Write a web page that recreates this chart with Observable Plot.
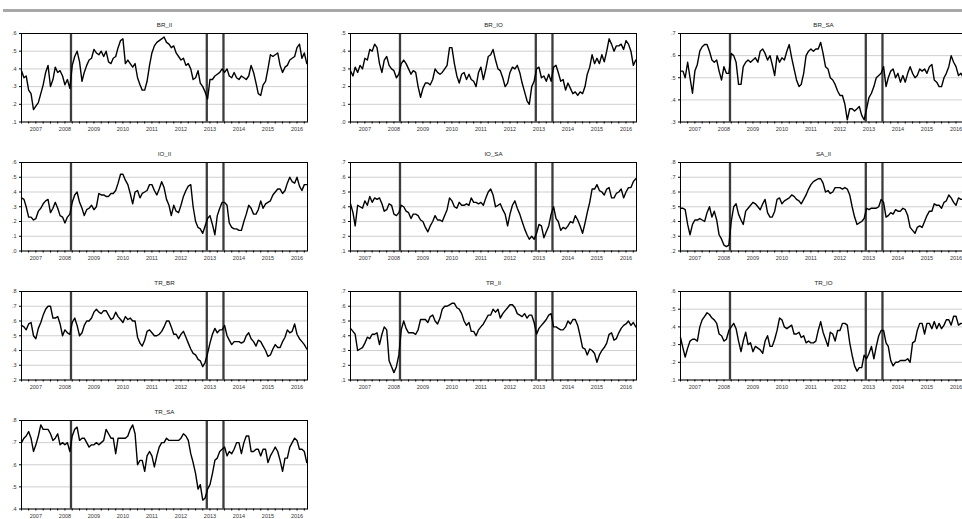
<!DOCTYPE html>
<html><head><meta charset="utf-8">
<script src="https://cdn.jsdelivr.net/npm/d3@7"></script>
<script src="https://cdn.jsdelivr.net/npm/@observablehq/plot@0.6"></script>
<style>
html,body{margin:0;padding:0;background:#fff;overflow:hidden;width:962px;height:519px}
#root{position:relative;width:962px;height:519px;overflow:hidden;background:#fff}
.bar{position:absolute;left:3px;right:0;top:9px;height:3px;background:#a8a8a8}
.panel{position:absolute}
</style></head><body><div id="root"><div class="bar"></div></div>
<script>
// Monthly readings, Jan 2007 .. Nov 2016 (119 values each)
const startYear = 2007;
const titles = ["BR_II","BR_IO","BR_SA","IO_II","IO_SA","SA_II","TR_BR","TR_II","TR_IO","TR_SA"];
const yDomains = [[0.1,0.6],[0.0,0.5],[0.3,0.7],[0.0,0.6],[0.1,0.7],[0.2,0.8],[0.2,0.8],[0.1,0.7],[0.1,0.6],[0.4,0.8]];
const eventDates = ["2008-09-15","2013-05-22","2013-12-18"];
const yearLabels = [2007,2008,2009,2010,2011,2012,2013,2014,2015,2016];
const xEnd = "2016-11-10";

const BR_II = [0.39,0.35,0.36,0.28,0.26,0.17,0.19,0.21,0.26,0.31,0.38,0.42,
0.30,0.34,0.41,0.38,0.39,0.36,0.31,0.34,0.29,0.42,0.47,0.50,
0.44,0.33,0.38,0.42,0.45,0.46,0.51,0.49,0.48,0.50,0.47,0.50,
0.44,0.43,0.46,0.47,0.52,0.56,0.57,0.43,0.45,0.43,0.41,0.43,
0.35,0.31,0.28,0.28,0.33,0.42,0.49,0.53,0.55,0.56,0.57,0.58,
0.55,0.54,0.52,0.53,0.49,0.47,0.45,0.46,0.42,0.43,0.40,0.34,
0.35,0.39,0.32,0.30,0.27,0.23,0.34,0.34,0.36,0.37,0.38,0.40,
0.38,0.40,0.36,0.35,0.38,0.35,0.34,0.36,0.35,0.34,0.36,0.42,
0.38,0.32,0.26,0.25,0.31,0.33,0.40,0.48,0.47,0.48,0.49,0.42,
0.38,0.41,0.42,0.45,0.46,0.47,0.52,0.54,0.46,0.49,0.43];

const BR_IO = [0.29,0.26,0.31,0.28,0.32,0.30,0.36,0.35,0.41,0.40,0.44,0.42,
0.33,0.28,0.35,0.37,0.32,0.30,0.29,0.25,0.27,0.33,0.35,0.33,
0.30,0.27,0.29,0.28,0.20,0.14,0.19,0.22,0.22,0.21,0.24,0.30,
0.28,0.27,0.28,0.30,0.32,0.42,0.42,0.33,0.26,0.22,0.27,0.28,
0.24,0.27,0.24,0.23,0.20,0.28,0.31,0.24,0.30,0.37,0.38,0.41,
0.35,0.30,0.29,0.25,0.20,0.22,0.28,0.31,0.30,0.32,0.28,0.22,
0.17,0.12,0.10,0.20,0.23,0.30,0.31,0.25,0.26,0.23,0.27,0.23,
0.31,0.32,0.28,0.23,0.24,0.18,0.22,0.19,0.16,0.17,0.15,0.17,
0.16,0.20,0.27,0.31,0.38,0.33,0.36,0.33,0.38,0.34,0.40,0.47,
0.44,0.40,0.43,0.43,0.44,0.41,0.46,0.44,0.40,0.32,0.35];

const BR_SA = [0.53,0.53,0.50,0.57,0.50,0.43,0.53,0.56,0.62,0.64,0.65,0.65,
0.62,0.58,0.57,0.58,0.53,0.49,0.55,0.52,0.52,0.61,0.60,0.57,
0.47,0.47,0.55,0.57,0.58,0.57,0.58,0.59,0.57,0.62,0.63,0.61,
0.58,0.60,0.56,0.51,0.60,0.57,0.59,0.58,0.62,0.65,0.59,0.54,
0.49,0.46,0.47,0.52,0.60,0.62,0.63,0.62,0.63,0.63,0.66,0.61,
0.55,0.54,0.50,0.49,0.47,0.44,0.42,0.42,0.38,0.31,0.36,0.36,
0.35,0.36,0.37,0.33,0.31,0.36,0.41,0.43,0.46,0.50,0.51,0.52,
0.55,0.46,0.50,0.53,0.54,0.50,0.52,0.48,0.51,0.48,0.52,0.55,
0.52,0.50,0.51,0.54,0.53,0.54,0.52,0.55,0.56,0.49,0.48,0.46,
0.46,0.50,0.52,0.55,0.60,0.57,0.55,0.51,0.52,0.50,0.50];

const IO_II = [0.36,0.35,0.30,0.23,0.23,0.21,0.22,0.27,0.29,0.32,0.34,0.35,
0.26,0.29,0.33,0.29,0.24,0.23,0.19,0.23,0.25,0.33,0.38,0.40,
0.33,0.29,0.24,0.28,0.29,0.31,0.28,0.30,0.39,0.38,0.38,0.37,
0.37,0.39,0.39,0.41,0.46,0.52,0.52,0.48,0.45,0.39,0.32,0.40,
0.41,0.36,0.39,0.40,0.41,0.45,0.45,0.41,0.38,0.42,0.47,0.43,
0.35,0.31,0.24,0.31,0.27,0.26,0.31,0.37,0.41,0.44,0.45,0.30,
0.20,0.16,0.15,0.12,0.17,0.22,0.24,0.18,0.11,0.24,0.29,0.33,
0.33,0.31,0.19,0.16,0.15,0.15,0.14,0.14,0.20,0.25,0.31,0.29,
0.25,0.25,0.28,0.34,0.29,0.32,0.33,0.34,0.38,0.40,0.42,0.42,
0.39,0.41,0.46,0.50,0.47,0.46,0.50,0.44,0.41,0.45,0.45];

const IO_SA = [0.42,0.36,0.27,0.41,0.40,0.39,0.44,0.41,0.47,0.43,0.46,0.45,
0.46,0.42,0.37,0.38,0.42,0.41,0.35,0.34,0.36,0.41,0.40,0.37,
0.36,0.32,0.35,0.35,0.34,0.31,0.30,0.26,0.23,0.27,0.30,0.34,
0.31,0.31,0.30,0.34,0.38,0.46,0.44,0.40,0.39,0.43,0.41,0.41,
0.42,0.41,0.46,0.43,0.43,0.42,0.43,0.41,0.46,0.50,0.52,0.48,
0.40,0.41,0.42,0.38,0.35,0.27,0.35,0.41,0.44,0.39,0.35,0.30,
0.25,0.21,0.18,0.20,0.18,0.22,0.28,0.27,0.19,0.23,0.27,0.35,
0.40,0.32,0.30,0.24,0.26,0.25,0.27,0.30,0.29,0.34,0.31,0.27,
0.22,0.29,0.36,0.43,0.52,0.52,0.55,0.51,0.50,0.48,0.52,0.53,
0.46,0.46,0.49,0.50,0.52,0.46,0.50,0.53,0.53,0.57,0.59];

const SA_II = [0.49,0.49,0.48,0.38,0.31,0.38,0.41,0.41,0.42,0.41,0.40,0.46,
0.50,0.43,0.47,0.41,0.31,0.28,0.24,0.23,0.24,0.40,0.50,0.52,
0.45,0.41,0.38,0.47,0.49,0.51,0.53,0.52,0.50,0.48,0.52,0.55,
0.46,0.43,0.43,0.47,0.55,0.56,0.52,0.54,0.55,0.56,0.58,0.57,
0.55,0.54,0.52,0.55,0.58,0.62,0.65,0.67,0.68,0.69,0.69,0.66,
0.60,0.61,0.59,0.60,0.63,0.63,0.63,0.62,0.63,0.62,0.58,0.50,
0.43,0.38,0.39,0.40,0.42,0.49,0.48,0.49,0.49,0.49,0.50,0.55,
0.53,0.43,0.44,0.46,0.45,0.48,0.47,0.47,0.49,0.48,0.44,0.36,
0.34,0.32,0.36,0.37,0.36,0.40,0.44,0.47,0.47,0.52,0.51,0.51,
0.49,0.53,0.54,0.58,0.56,0.53,0.51,0.56,0.55,0.55,0.55];

const TR_BR = [0.57,0.56,0.54,0.58,0.59,0.50,0.48,0.55,0.59,0.64,0.68,0.70,
0.70,0.62,0.62,0.63,0.58,0.50,0.54,0.52,0.51,0.59,0.62,0.57,
0.50,0.52,0.57,0.60,0.60,0.62,0.66,0.68,0.66,0.65,0.67,0.67,
0.64,0.61,0.62,0.66,0.63,0.61,0.59,0.63,0.61,0.62,0.60,0.60,
0.49,0.45,0.43,0.47,0.53,0.54,0.52,0.50,0.50,0.51,0.53,0.56,
0.60,0.60,0.56,0.51,0.51,0.48,0.51,0.53,0.49,0.45,0.41,0.38,
0.37,0.34,0.33,0.29,0.32,0.38,0.45,0.51,0.55,0.52,0.54,0.54,
0.57,0.50,0.47,0.44,0.46,0.46,0.46,0.45,0.46,0.50,0.52,0.48,
0.46,0.43,0.47,0.46,0.43,0.40,0.36,0.37,0.41,0.44,0.42,0.42,
0.46,0.49,0.54,0.52,0.53,0.58,0.51,0.48,0.46,0.44,0.41];

const TR_II = [0.45,0.43,0.41,0.30,0.31,0.32,0.35,0.39,0.38,0.41,0.41,0.42,
0.34,0.41,0.46,0.44,0.23,0.19,0.15,0.19,0.27,0.44,0.50,0.45,
0.42,0.42,0.42,0.41,0.44,0.51,0.51,0.51,0.49,0.53,0.54,0.50,
0.48,0.52,0.58,0.60,0.60,0.61,0.62,0.62,0.59,0.58,0.55,0.50,
0.47,0.49,0.43,0.43,0.40,0.44,0.46,0.48,0.51,0.54,0.54,0.58,
0.56,0.58,0.52,0.55,0.57,0.59,0.61,0.61,0.59,0.55,0.54,0.53,
0.55,0.52,0.54,0.54,0.49,0.41,0.45,0.47,0.49,0.51,0.54,0.55,
0.46,0.46,0.45,0.44,0.44,0.46,0.50,0.48,0.51,0.51,0.47,0.40,
0.32,0.31,0.27,0.31,0.30,0.28,0.22,0.27,0.30,0.32,0.35,0.41,
0.42,0.37,0.38,0.42,0.45,0.47,0.48,0.50,0.47,0.49,0.46];

const TR_IO = [0.34,0.28,0.23,0.28,0.32,0.33,0.33,0.32,0.40,0.44,0.46,0.48,
0.47,0.45,0.44,0.42,0.36,0.35,0.32,0.33,0.38,0.40,0.42,0.39,
0.32,0.26,0.32,0.37,0.30,0.31,0.26,0.29,0.28,0.27,0.25,0.32,
0.35,0.29,0.29,0.33,0.38,0.45,0.44,0.40,0.39,0.40,0.41,0.36,
0.36,0.37,0.34,0.35,0.31,0.32,0.31,0.31,0.32,0.38,0.43,0.37,
0.33,0.29,0.37,0.36,0.32,0.38,0.38,0.42,0.42,0.41,0.31,0.24,
0.18,0.15,0.17,0.17,0.24,0.22,0.25,0.29,0.22,0.29,0.35,0.38,
0.38,0.31,0.29,0.21,0.18,0.20,0.20,0.21,0.21,0.21,0.22,0.20,
0.31,0.32,0.38,0.42,0.42,0.36,0.42,0.42,0.39,0.43,0.39,0.42,
0.39,0.41,0.44,0.44,0.41,0.46,0.46,0.41,0.42,0.42,0.42];

const TR_SA = [0.70,0.72,0.73,0.75,0.72,0.66,0.69,0.73,0.78,0.76,0.76,0.76,
0.74,0.71,0.72,0.74,0.69,0.70,0.69,0.70,0.66,0.73,0.76,0.77,
0.71,0.72,0.72,0.70,0.68,0.69,0.69,0.70,0.69,0.70,0.71,0.76,
0.74,0.72,0.72,0.65,0.72,0.72,0.72,0.72,0.73,0.76,0.78,0.74,
0.60,0.62,0.62,0.57,0.64,0.66,0.64,0.59,0.64,0.68,0.70,0.70,
0.72,0.71,0.71,0.71,0.71,0.71,0.72,0.74,0.73,0.71,0.65,0.61,
0.56,0.49,0.51,0.44,0.45,0.49,0.51,0.56,0.62,0.63,0.66,0.67,
0.68,0.64,0.66,0.65,0.67,0.70,0.70,0.65,0.70,0.73,0.73,0.66,
0.66,0.67,0.67,0.64,0.67,0.67,0.61,0.64,0.66,0.68,0.66,0.62,
0.57,0.63,0.63,0.68,0.70,0.72,0.71,0.67,0.67,0.66,0.61];

const seriesList = [BR_II, BR_IO, BR_SA, IO_II, IO_SA, SA_II, TR_BR, TR_II, TR_IO, TR_SA];

const root = document.getElementById("root");
const FRAME_W = 286, FRAME_H = 88.5;
const ML = 22, MR = 4, MT = 18, MB = 16;
const xStart = new Date(Date.UTC(startYear, 0, 1));
const xStop = new Date(xEnd + "T00:00:00Z");
const yearTicks = yearLabels.map(y => new Date(Date.UTC(y, 6, 1)));
const quarterTicks = d3.utcMonth.every(3).range(xStart, xStop);
const events = eventDates.map(s => new Date(s + "T00:00:00Z"));
const fmt = d => d.toFixed(1).replace(/^0/, "");

seriesList.forEach((vals, i) => {
  const col = i % 3, row = Math.floor(i / 3);
  const frameLeft = 20.7 + col * 329.7;
  const frameTop = 33.3 + row * 129;
  const data = vals.map((v, k) => ({date: new Date(Date.UTC(startYear, k, 1)), value: v}));
  const [lo, hi] = yDomains[i];
  const yTicks = d3.range(Math.round(lo * 10), Math.round(hi * 10) + 1).map(t => t / 10);
  const chart = Plot.plot({
    width: FRAME_W + ML + MR,
    height: FRAME_H + MT + MB,
    marginLeft: ML, marginRight: MR, marginTop: MT, marginBottom: MB,
    style: {fontFamily: "'Liberation Sans', Arial, sans-serif", fontSize: "5.5px", background: "transparent", overflow: "visible", color: "#333"},
    x: {type: "utc", domain: [xStart, xStop], label: null},
    y: {domain: [lo, hi], label: null},
    marks: [
      Plot.gridY(yTicks, {stroke: "#cfcfcf", strokeOpacity: 1, strokeWidth: 1}),
      Plot.ruleX(events, {stroke: "#3c3c3c", strokeWidth: 2.3}),
      Plot.line(data, {x: "date", y: "value", stroke: "#000", strokeWidth: 1.4, strokeLinejoin: "round"}),
      Plot.frame({stroke: "#000", strokeWidth: 1}),
      Plot.axisY(yTicks, {tickSize: 2, tickPadding: 3, tickFormat: fmt, fontSize: 5.5, stroke: "#000", label: null}),
      Plot.axisX(quarterTicks, {tickSize: 2, tickFormat: () => "", stroke: "#000", label: null}),
      Plot.axisX(yearTicks, {tickSize: 0, tickPadding: 5, tickFormat: d => String(d.getUTCFullYear()), fontSize: 5.5, label: null}),
      Plot.text([titles[i]], {frameAnchor: "top", dy: -10.5, fontSize: 6.2, fill: "#222"})
    ]
  });
  chart.classList.add("panel");
  chart.style.left = (frameLeft - ML) + "px";
  chart.style.top = (frameTop - MT) + "px";
  chart.style.position = "absolute";
  root.appendChild(chart);
});
</script>
</body></html>
